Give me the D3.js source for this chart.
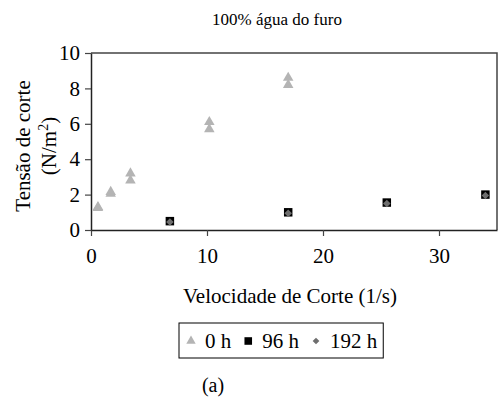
<!DOCTYPE html>
<html>
<head>
<meta charset="utf-8">
<script src="https://cdn.jsdelivr.net/npm/d3@7"></script>
<style>
  body { margin: 0; background: #fff; }
  svg text { font-family: "Liberation Serif", "Times New Roman", serif; fill: #000; }
</style>
</head>
<body>
<div id="chart"></div>
<script>
const w = 498;
const h = 401;

// data
const series = ["0 h", "96 h", "192 h"];
const x0h = [0.6, 0.6, 1.7, 1.7, 3.4, 3.4, 10.2, 10.2, 17, 17];
const y0h = [1.25, 1.3, 2.05, 2.15, 2.8, 3.2, 5.7, 6.1, 8.2, 8.6];
const x96h = [6.8, 17, 25.5, 34];
const y96h = [0.5, 1.0, 1.55, 2.0];
const x192h = [6.8, 17, 25.5, 34];
const y192h = [0.45, 0.95, 1.5, 1.95];
const xTicks = [0, 10, 20, 30];
const yTicks = [0, 2, 4, 6, 8, 10];

const plot = {left: 91, right: 497, top: 53, bottom: 230};
const serif = '"Liberation Serif", "Times New Roman", serif';

const svg = d3.select("#chart").append("svg")
  .attr("width", w).attr("height", h);

const x = d3.scaleLinear().domain([0, 35]).range([plot.left, plot.right]);
const y = d3.scaleLinear().domain([0, 10]).range([plot.bottom, plot.top]);

// frame (top + right)
svg.append("path")
  .attr("d", `M${plot.left},${plot.top}H${plot.right}V${plot.bottom}`)
  .attr("fill", "none").attr("stroke", "#444").attr("stroke-width", 1.5);

//Axes
const xAxis = svg.append("g")
  .attr("transform", `translate(0,${plot.bottom})`)
  .call(d3.axisBottom(x).tickValues(xTicks).tickSize(6).tickPadding(12).tickSizeOuter(0));
const yAxis = svg.append("g")
  .attr("transform", `translate(${plot.left},0)`)
  .call(d3.axisLeft(y).tickValues(yTicks).tickSize(6).tickPadding(5).tickSizeOuter(0));
[xAxis, yAxis].forEach(a => {
  a.attr("font-family", serif).attr("font-size", 21);
  a.select(".domain").attr("stroke", "#222").attr("stroke-width", 1.5);
  a.selectAll(".tick line").attr("stroke", "#444").attr("stroke-width", 1.2);
  a.selectAll(".tick text").attr("fill", "#000");
});

// markers
const sym = {
  "0 h": {type: d3.symbolTriangle, size: 48, color: "#b4b4b4"},
  "96 h": {type: d3.symbolSquare, size: 72, color: "#000"},
  "192 h": {type: d3.symbolDiamond2, size: 36, color: "#6e6e6e"}
};
const sets = [[x0h, y0h], [x96h, y96h], [x192h, y192h]];
series.forEach((s, k) => {
  const [xs, ys] = sets[k];
  svg.append("g").selectAll("path")
    .data(xs.map((v, i) => [v, ys[i]]))
    .enter().append("path")
    .attr("d", d3.symbol().type(sym[s].type).size(sym[s].size))
    .attr("transform", d => `translate(${x(d[0])},${y(d[1])})`)
    .attr("fill", sym[s].color);
});

//Title
svg.append("text").attr("x", 277).attr("y", 25).attr("text-anchor", "middle")
  .attr("font-size", 17).text("100% água do furo");

// axis titles
svg.append("text").attr("x", 290).attr("y", 303).attr("text-anchor", "middle")
  .attr("font-size", 21).text("Velocidade de Corte (1/s)");
const yt = svg.append("text").attr("transform", "translate(30,146) rotate(-90)")
  .attr("text-anchor", "middle").attr("font-size", 21);
yt.append("tspan").attr("x", 0).attr("y", 0).text("Tensão de corte");
yt.append("tspan").attr("x", 0).attr("y", 26).text("(N/m");
yt.append("tspan").attr("dy", -8).attr("font-size", 14).text("2");
yt.append("tspan").attr("dy", 8).text(")");

//Legend
const legend = svg.append("g").attr("id", "legend");
let lx = 191;
series.forEach(s => {
  legend.append("path")
    .attr("d", d3.symbol().type(sym[s].type).size(sym[s].size * 0.8))
    .attr("transform", `translate(${lx},${341})`)
    .attr("fill", sym[s].color);
  const t = legend.append("text").attr("x", lx + 14).attr("y", 348)
    .attr("font-size", 21).text(s);
  lx += 14 + t.node().getComputedTextLength() + 17;
});
legend.insert("rect", ":first-child")
  .attr("x", 179).attr("y", 323).attr("width", lx - 17 + 6 - 179).attr("height", 35)
  .attr("fill", "#fff").attr("stroke", "#000").attr("stroke-width", 1);

svg.append("text").attr("x", 213).attr("y", 392).attr("text-anchor", "middle")
  .attr("font-size", 20).text("(a)");
</script>
</body>
</html>
